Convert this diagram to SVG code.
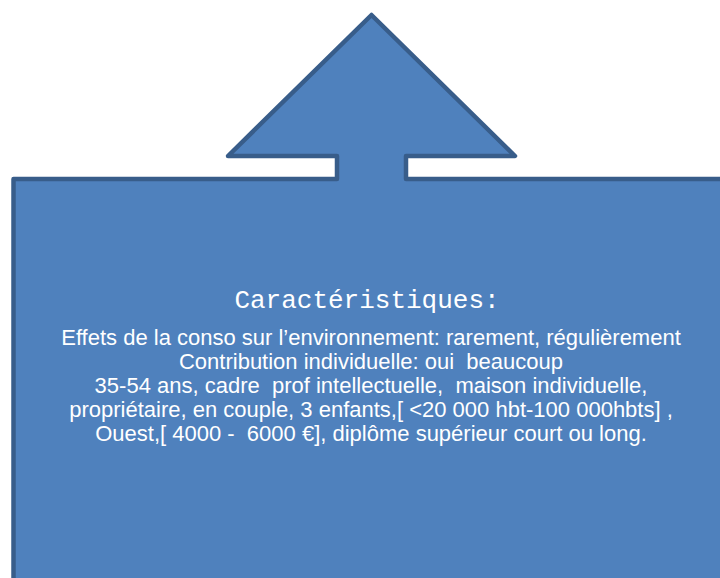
<svg xmlns="http://www.w3.org/2000/svg" width="720" height="578" viewBox="0 0 720 578">
  <style>
    .callout { fill: #4f81bd; stroke: #385d8a; stroke-width: 4.5; stroke-linejoin: round; }
    .title { font-family: "Liberation Mono", "Courier New", monospace; font-size: 26px; fill: #ffffff; text-anchor: middle; }
    .body { font-family: "Liberation Sans", Arial, sans-serif; font-size: 22px; fill: #ffffff; text-anchor: middle; white-space: pre; }
  </style>
  <rect width="720" height="578" fill="#ffffff"/>
  <!-- up-arrow callout box -->
  <g id="callout">
    <path class="callout" d="M 13.5 179 H 337 V 156 H 228 L 371.5 15 L 515 156 H 406 V 179 H 730 V 600 H 13.5 Z"/>
    <text class="title" x="367" y="308">Caractéristiques:</text>
    <text class="body" x="371" y="345">Effets de la conso sur l’environnement: rarement, régulièrement</text>
    <text class="body" x="371" y="369">Contribution individuelle: oui  beaucoup</text>
    <text class="body" x="371" y="393">35-54 ans, cadre  prof intellectuelle,  maison individuelle,</text>
    <text class="body" x="371" y="417">propriétaire, en couple, 3 enfants,[ &lt;20 000 hbt-100 000hbts] ,</text>
    <text class="body" x="371" y="441">Ouest,[ 4000 -  6000 €], diplôme supérieur court ou long.</text>
  </g>
</svg>
